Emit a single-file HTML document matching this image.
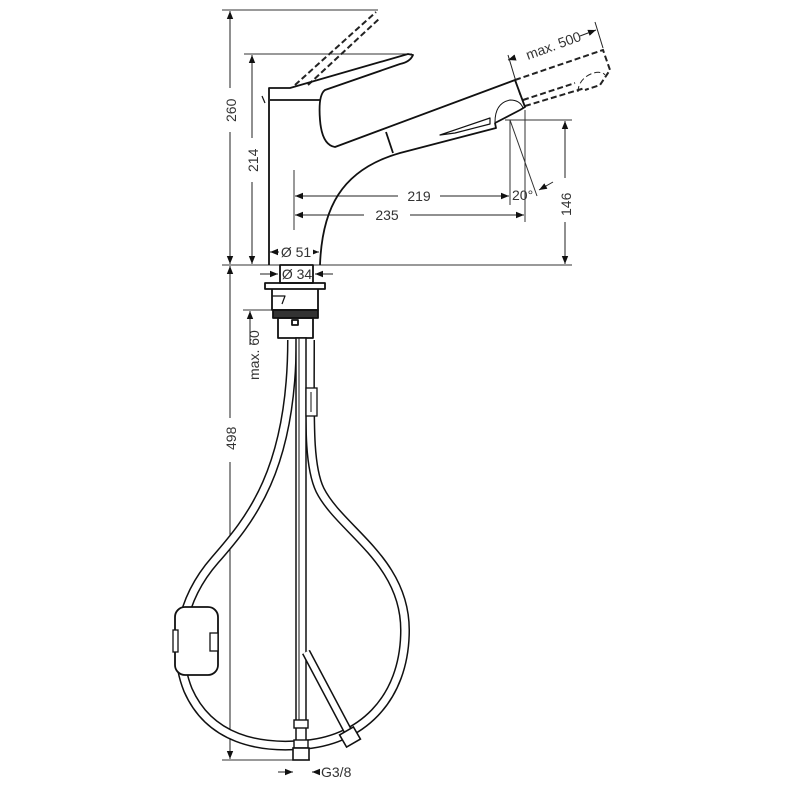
<!DOCTYPE html>
<html><head><style>
html,body{margin:0;padding:0;background:#fff;}
svg{display:block;}
text{font-family:"Liberation Sans",sans-serif;font-size:14px;fill:#333;}
</style></head><body>
<svg width="787" height="800" viewBox="0 0 787 800">
<defs>
<marker id="a" viewBox="0 0 10 10" refX="10" refY="5" markerWidth="8" markerHeight="8" orient="auto-start-reverse"><path d="M0,1 L10,5 L0,9 z" fill="#111"/></marker>
</defs>
<g stroke="#333" stroke-width="1" fill="none">
<line x1="222" y1="10" x2="378" y2="10"/>
<line x1="244" y1="54" x2="412" y2="54"/>
<line x1="222" y1="265" x2="572" y2="265"/>
<line x1="294" y1="170" x2="294" y2="230"/>
<line x1="510" y1="120" x2="510" y2="205"/>
<line x1="525" y1="110" x2="525" y2="222"/>
<line x1="505" y1="120" x2="572" y2="120"/>
<line x1="510" y1="120" x2="537" y2="196"/>
<line x1="222" y1="760" x2="310" y2="760"/>
<line x1="243" y1="310" x2="272" y2="310"/>
</g>
<g stroke="#222" stroke-width="1" fill="none" marker-start="url(#a)" marker-end="url(#a)">
<line x1="230" y1="11" x2="230" y2="264"/>
<line x1="252" y1="55" x2="252" y2="264"/>
<line x1="565" y1="121" x2="565" y2="264"/>
<line x1="295" y1="196" x2="509" y2="196"/>
<line x1="295" y1="215" x2="524" y2="215"/>
<line x1="270" y1="252" x2="319" y2="252"/>
<line x1="230" y1="266" x2="230" y2="759"/>
</g>
<g fill="#fff"><rect x="398" y="186" width="42" height="18"/><rect x="364" y="205" width="46" height="18"/><rect x="279" y="244" width="34" height="16"/><rect x="222" y="88" width="16" height="44"/><rect x="244" y="138" width="16" height="44"/><rect x="557" y="178" width="16" height="44"/><rect x="222" y="418" width="16" height="44"/></g>
<text x="419" y="201" text-anchor="middle">219</text>
<text x="387" y="220" text-anchor="middle">235</text>
<text x="296" y="257" text-anchor="middle">Ø 51</text>
<text x="512" y="200">20°</text>
<text transform="translate(236,122) rotate(-90)">260</text>
<text transform="translate(258,172) rotate(-90)">214</text>
<text transform="translate(571,216) rotate(-90)">146</text>
<text transform="translate(236,450) rotate(-90)">498</text>
<text transform="translate(259,380) rotate(-90)">max. 60</text>
<text transform="translate(528,60) rotate(-20)">max. 500</text>
<text x="297" y="279" text-anchor="middle">Ø 34</text>
<text x="321" y="777">G3/8</text>
<g stroke="#222" stroke-width="1" fill="none">
<line x1="260" y1="274" x2="278" y2="274" marker-end="url(#a)"/>
<line x1="333" y1="274" x2="315" y2="274" marker-end="url(#a)"/>
<line x1="278" y1="772" x2="293" y2="772" marker-end="url(#a)"/>
<line x1="320" y1="772" x2="312" y2="772" marker-end="url(#a)"/>
<line x1="250" y1="345" x2="250" y2="311" marker-end="url(#a)"/>
<line x1="514" y1="58" x2="508" y2="60" marker-end="url(#a)"/>
<line x1="580" y1="36" x2="596" y2="30" marker-end="url(#a)"/>
<line x1="553" y1="182" x2="539" y2="190" marker-end="url(#a)"/>
<line x1="508" y1="55" x2="520" y2="95"/>
<line x1="595" y1="22" x2="603" y2="48"/>
</g>
<g stroke="#222" stroke-width="2" fill="none" stroke-dasharray="6,3">
<line x1="295" y1="85" x2="376" y2="12"/>
<line x1="308" y1="85" x2="380" y2="18"/>
<path d="M515,80 L603,50 L610,70 L600,85 L585,90 M525,106 L585,88 M523,100 L575,83"/>
<path d="M578,92 C578,75 600,68 605,75" stroke-width="1"/>
</g>
<g stroke="#111" stroke-width="1.8" fill="none" stroke-linejoin="round">
<path d="M269,265 L269,88 L290,88 L408,54 L413,55 Q410,62 400,64 L325,90 Q318,95 320,120 Q322,145 335,147 L515,80 L525,107 L520,110 L495,123 L496,128 L400,153 C340,170 322,210 320,265"/>
<line x1="270" y1="100" x2="320" y2="100"/>
<line x1="386" y1="132" x2="393" y2="153"/>
<path d="M490,118 L440,135 L455,133 L490,124 Z" stroke-width="1.2"/>
<path d="M495,122 Q495,103 510,100 Q520,100 523,108" stroke-width="1"/>
<path d="M265,103 L262,96" stroke-width="1.2"/>
<rect x="280" y="265" width="33" height="18"/>
<rect x="265" y="283" width="60" height="6"/>
<path d="M272,289 L272,310 L318,310 L318,289"/>
<path d="M272,296 L285,296 L282,304" stroke-width="1.2"/>
<rect x="273" y="310" width="45" height="8" fill="#333"/>
<rect x="278" y="318" width="35" height="20"/>
<rect x="292" y="320" width="6" height="5"/>
</g>
<path d="M292,340 C292,470 250,520 215,560 C180,600 172,650 188,690 C210,740 260,748 300,745 C360,742 405,700 405,630 C405,560 340,530 320,490 C308,465 310,420 310,340" stroke="#111" stroke-width="10" fill="none"/>
<path d="M292,340 C292,470 250,520 215,560 C180,600 172,650 188,690 C210,740 260,748 300,745 C360,742 405,700 405,630 C405,560 340,530 320,490 C308,465 310,420 310,340" stroke="#fff" stroke-width="7" fill="none"/>
<rect x="296" y="338" width="10" height="412" fill="#fff" stroke="#111" stroke-width="1.5"/>
<line x1="299" y1="338" x2="299" y2="720" stroke="#111" stroke-width="1"/>
<path d="M306,652 L350,735" stroke="#111" stroke-width="9"/>
<path d="M306,652 L350,735" stroke="#fff" stroke-width="6"/>
<rect x="342" y="730" width="16" height="14" transform="rotate(-30 350 737)" fill="#fff" stroke="#111" stroke-width="1.6"/>
<rect x="294" y="720" width="14" height="8" fill="#fff" stroke="#111" stroke-width="1.4"/>
<rect x="294" y="740" width="14" height="8" fill="#fff" stroke="#111" stroke-width="1.4"/>
<rect x="293" y="748" width="16" height="12" fill="#fff" stroke="#111" stroke-width="1.6"/>
<rect x="306" y="388" width="11" height="28" fill="#fff" stroke="#111" stroke-width="1.3"/>
<line x1="311" y1="392" x2="311" y2="412" stroke="#111"/>
<rect x="175" y="607" width="43" height="68" rx="10" fill="#fff" stroke="#111" stroke-width="1.8"/>
<rect x="173" y="630" width="5" height="22" fill="#fff" stroke="#111" stroke-width="1.3"/>
<rect x="210" y="633" width="8" height="18" fill="#fff" stroke="#111" stroke-width="1.3"/>
</svg>
</body></html>
